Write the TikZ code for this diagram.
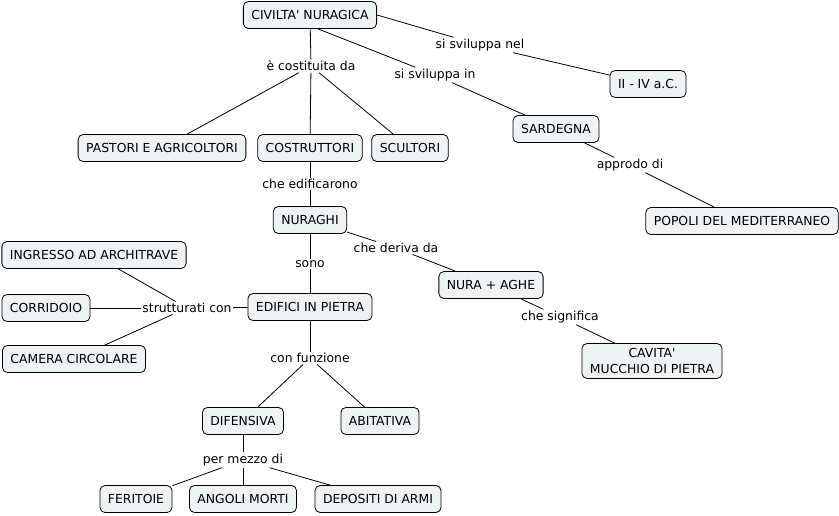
\documentclass[tikz,border=0pt]{standalone}
\usepackage{fontspec}
\setmainfont{DejaVu Sans}
\usepackage{tikz}

\definecolor{conceptfill}{HTML}{EEF3F5}

\tikzset{
    concept/.style={draw=black, fill=conceptfill, rounded corners=5pt, line width=0.8pt,
        minimum height=27pt, inner xsep=8pt, inner ysep=4pt, align=center,
        font=\fontsize{12.4}{15.5}\selectfont},
    linkphrase/.style={fill=white, inner sep=1.5pt, font=\fontsize{12.4}{14}\selectfont},
    link/.style={line width=0.8pt}
}

\begin{document}
\begin{tikzpicture}[x=1pt,y=-1pt]
    \useasboundingbox (0,0) rectangle (839,516);

    % First, locate each of the concepts and name them
    \node [concept] (civilta) at (310,15) {CIVILTA\textquotesingle{} NURAGICA};
    \node [concept] (epoca) at (648,84) {II - IV a.C.};
    \node [concept] (sardegna) at (556,129) {SARDEGNA};
    \node [concept] (pastori) at (162,148) {PASTORI E AGRICOLTORI};
    \node [concept] (costruttori) at (310,148) {COSTRUTTORI};
    \node [concept] (scultori) at (410,148) {SCULTORI};
    \node [concept] (popoli) at (742,221) {POPOLI DEL MEDITERRANEO};
    \node [concept] (nuraghi) at (310,220) {NURAGHI};
    \node [concept] (ingresso) at (94,255) {INGRESSO AD ARCHITRAVE};
    \node [concept] (nura) at (491,285) {NURA + AGHE};
    \node [concept] (corridoio) at (46,308) {CORRIDOIO};
    \node [concept] (edifici) at (310,307) {EDIFICI IN PIETRA};
    \node [concept] (camera) at (74,359) {CAMERA CIRCOLARE};
    \node [concept, inner ysep=5pt] (cavita) at (652,361) {CAVITA\textquotesingle\\MUCCHIO DI PIETRA};
    \node [concept] (difensiva) at (243,421) {DIFENSIVA};
    \node [concept] (abitativa) at (380,421) {ABITATIVA};
    \node [concept] (feritoie) at (136,499) {FERITOIE};
    \node [concept] (angoli) at (243,499) {ANGOLI MORTI};
    \node [concept] (depositi) at (378,499) {DEPOSITI DI ARMI};

    % Then the linking phrases
    \node [linkphrase] (nel) at (480,45) {si sviluppa nel};
    \node [linkphrase] (costituita) at (311,66) {è costituita da};
    \node [linkphrase] (in) at (435,75) {si sviluppa in};
    \node [linkphrase] (approdo) at (630,165) {approdo di};
    \node [linkphrase] (edificarono) at (310,184) {che edificarono};
    \node [linkphrase] (deriva) at (396,248) {che deriva da};
    \node [linkphrase] (sono) at (310,264) {sono};
    \node [linkphrase] (strutturati) at (187,308) {strutturati con};
    \node [linkphrase] (significa) at (560,317) {che significa};
    \node [linkphrase] (funzione) at (310,358) {con funzione};
    \node [linkphrase] (mezzo) at (243,460) {per mezzo di};

    % Now draw the lines:
    \draw [link] (civilta.east) -- (nel) -- (epoca);
    \draw [link] (civilta) -- (costituita);
    \draw [link] (costituita) -- (pastori);
    \draw [link] (costituita) -- (costruttori);
    \draw [link] (costituita) -- (scultori);
    \draw [link] (civilta.-60) -- (in) -- (sardegna);
    \draw [link] (sardegna) -- (approdo) -- (popoli);
    \draw [link] (costruttori) -- (edificarono) -- (nuraghi);
    \draw [link] (nuraghi) -- (deriva) -- (nura);
    \draw [link] (nura) -- (significa) -- (cavita);
    \draw [link] (nuraghi) -- (sono) -- (edifici);
    \draw [link] (edifici) -- (strutturati);
    \draw [link] (strutturati) -- (ingresso);
    \draw [link] (strutturati) -- (corridoio);
    \draw [link] (strutturati) -- (camera);
    \draw [link] (edifici) -- (funzione);
    \draw [link] (funzione) -- (difensiva);
    \draw [link] (funzione) -- (abitativa);
    \draw [link] (difensiva) -- (mezzo);
    \draw [link] (mezzo) -- (feritoie);
    \draw [link] (mezzo) -- (angoli);
    \draw [link] (mezzo) -- (depositi);
\end{tikzpicture}
\end{document}
